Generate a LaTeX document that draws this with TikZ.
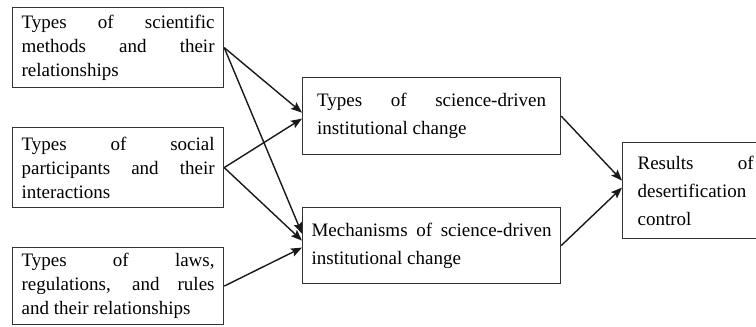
\documentclass[tikz,border=0pt]{standalone}
\usepackage{fontspec}
\setmainfont{Liberation Serif}
\usetikzlibrary{arrows.meta}
\begin{document}
\begin{tikzpicture}[x=1pt,y=-1pt,
  box/.style={draw=black!80, line width=1.2pt, anchor=north west, align=justify, inner ysep=0pt},
  lbox/.style={box, minimum width=211pt, minimum height=80pt, text width=193pt, inner xsep=9pt, font=\fontsize{19}{24}\selectfont},
  rbox/.style={box, font=\fontsize{19}{28}\selectfont},
  arr/.style={line width=1.4pt, black!90, -{Stealth[length=11pt,width=8.5pt,inset=2pt]}}]
\useasboundingbox (0,0) rectangle (756,327);
\node[lbox] (m1) at (12,7) {Types of scientific\linebreak methods and their\linebreak relationships};
\node[lbox] (m2) at (12,127) {Types of social\linebreak participants and their\linebreak interactions};
\node[lbox, minimum height=77pt] (m3) at (12,247) {Types of laws,\linebreak regulations, and rules\linebreak and their relationships};
\node[rbox, minimum width=258pt, minimum height=77pt, text width=229pt, inner xsep=14.5pt] (t1) at (302,77) {Types of science-driven\linebreak institutional change};
\node[rbox, minimum width=258pt, minimum height=76pt, text width=240pt, inner xsep=9pt] (t2) at (302,207) {Mechanisms of science-driven\linebreak institutional change};
\node[rbox, minimum width=146pt, minimum height=96pt, text width=116pt, inner xsep=15pt] (r) at (622,142) {Results of\linebreak desertification\\ control};
\draw[arr] (m1.east) -- ([yshift=3.5pt]t1.west);
\draw[arr] (m2.east) -- ([yshift=-2.5pt]t1.west);
\draw[arr] (m1.east) -- ([yshift=12pt]t2.west);
\draw[arr] (m2.east) -- ([yshift=5pt]t2.west);
\draw[arr] (m3.east) -- ([yshift=-2pt]t2.west);
\draw[arr] (t1.east) -- ([yshift=10pt]r.west);
\draw[arr] (t2.east) -- ([yshift=3pt]r.west);
\end{tikzpicture}
\end{document}
